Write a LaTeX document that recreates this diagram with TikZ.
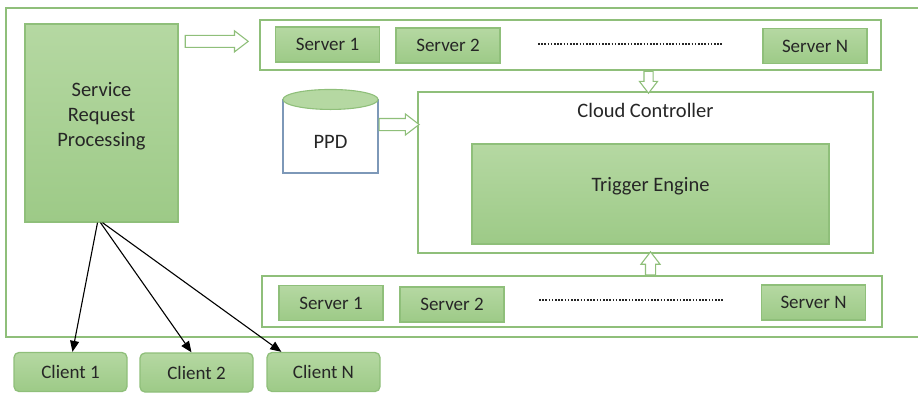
\documentclass[tikz,border=0pt]{standalone}
\usepackage{fontspec}
\setmainfont{Carlito}
\usepackage{xcolor}
\usepackage{tikz}
\usetikzlibrary{shapes}
\usetikzlibrary{arrows.meta}
\usetikzlibrary{calc}
\definecolor{linegreen}{HTML}{8FBF7A}
\definecolor{filltop}{HTML}{B5D8A2}
\definecolor{fillbot}{HTML}{9DCA87}
\definecolor{textgray}{HTML}{262626}
\definecolor{sideblue}{HTML}{7D98B8}
\tikzset{
	big text/.style={font=\fontsize{20.5}{25}\selectfont,text=textgray},
	green node/.style={draw=linegreen,line width=1.3pt,top color=filltop,bottom color=fillbot,
		text=textgray,font=\fontsize{19}{23}\selectfont},
	server node/.style={green node,minimum width=104pt,minimum height=35pt},
	client node/.style={green node,rounded corners=5pt,minimum width=113pt,minimum height=39pt},
	frame node/.style={draw=linegreen,line width=1.3pt,fill=white},
	hollow arrow/.style={single arrow,draw=linegreen,line width=1.1pt,fill=white,inner sep=5.5pt,
		single arrow head extend=4.5pt,single arrow head indent=0pt,single arrow tip angle=75},
	dot line/.style={draw=textgray,line width=2.6pt,dash pattern=on 1.5pt off 1.7pt}
}
\begin{document}
\begin{tikzpicture}[x=1pt,y=-1pt,>={Triangle[length=11pt,width=9pt]}]
	\useasboundingbox (0,0) rectangle (918,392);
	\draw[linegreen,line width=1.3pt] (918,8) -- (6,8) -- (6,337) -- (918,337);
	\node [green node,minimum width=153pt,minimum height=198pt,
		label={[big text,align=center,yshift=7pt]center:Service\\Request\\Processing}] (1) at (101.5,123) {};
	% upper server row
	\node [frame node,minimum width=621pt,minimum height=50pt] (2) at (570.5,45) {};
	\node [server node] (3) at (327.5,44.5) {Server 1};
	\node [server node] (4) at (448,45.5) {Server 2};
	\node [server node] (5) at (815,46) {Server N};
	\draw [dot line] (538,44) -- (722,44);
	% controller
	\node [frame node,minimum width=455pt,minimum height=161pt,
		label={[big text,anchor=center,yshift=-19pt]north:Cloud Controller}] (6) at (645.5,172.5) {};
	\node [green node,minimum width=357pt,minimum height=100pt,
		label={[big text,yshift=8pt]center:Trigger Engine}] (7) at (650.5,194) {};
	\node [draw=sideblue,line width=1.1pt,fill=white,minimum width=95pt,minimum height=73pt,
		label={[big text,yshift=-5pt]center:PPD}] (8) at (330.5,136.5) {};
	\draw [draw=linegreen,line width=1.1pt,fill=filltop] (8.north) ellipse (47.5 and 10);
	% lower server row
	\node [frame node,minimum width=620pt,minimum height=51pt] (9) at (572,301.5) {};
	\node [server node] (10) at (331,303) {Server 1};
	\node [server node] (11) at (452,304.5) {Server 2};
	\node [server node] (12) at (813.5,302.5) {Server N};
	\draw [dot line] (539,300) -- (723,300);
	% clients
	\node [client node] (13) at (70.5,372) {Client 1};
	\node [client node] (14) at (196.5,372.5) {Client 2};
	\node [client node] (15) at (323.5,372) {Client N};
	% hollow arrows
	\node [hollow arrow,minimum height=63pt,anchor=tail] (a1) at ($(1.north east)+(6,18)$) {};
	\node [hollow arrow,minimum height=40pt,anchor=tail] (a2) at ($(8.east)+(0,-12)$) {};
	\node [hollow arrow,inner sep=4pt,minimum height=22pt,anchor=tail,rotate=-90] (a3) at ($(2.south -| 7)+(-2,0)$) {};
	\node [hollow arrow,inner sep=4.5pt,minimum height=23pt,anchor=tail,rotate=90] (a4) at (9.north -| 7) {};
	% request arrows
	\draw [->,line width=1.1pt] ($(1.south)+(-4,0)$) -- ($(13.north)+(2,0)$);
	\draw [->,line width=1.1pt] ($(1.south)+(-1,0)$) -- ($(14.north)+(-5,0)$);
	\draw [->,line width=1.1pt] ($(1.south)+(1,0)$) -- ($(15.north west)+(15,0)$);
\end{tikzpicture}
\end{document}
